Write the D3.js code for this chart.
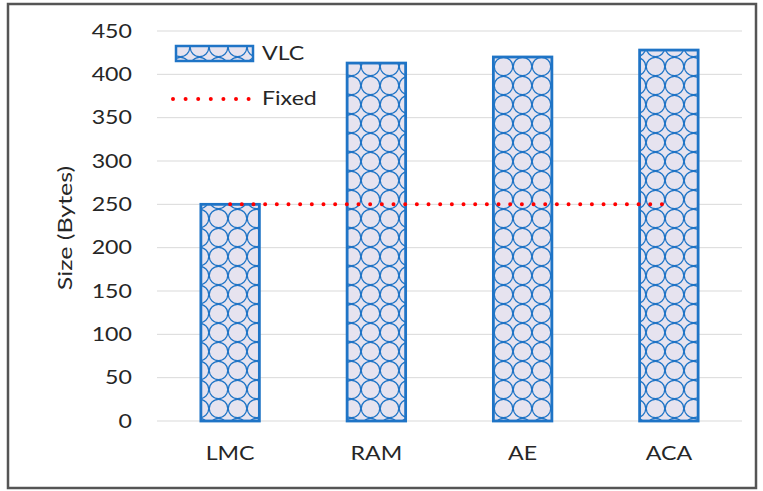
<!DOCTYPE html>
<html>
<head>
<meta charset="utf-8">
<script src="https://cdn.jsdelivr.net/npm/d3@7"></script>
<style>
  html, body { margin: 0; padding: 0; background: #fff; }
  svg { display: block; }
  text { font-family: "Lato", "Noto Sans", sans-serif; fill: #262626; }
</style>
</head>
<body>
<svg id="chart" width="763" height="491"></svg>
<script>
// Data
const categories = ["LMC", "RAM", "AE", "ACA"];
const vlcValues = [250, 413, 420, 428];
const fixedValues = [250, 250, 250, 250];
const yTicks = [0, 50, 100, 150, 200, 250, 300, 350, 400, 450];
const seriesNames = ["VLC", "Fixed"];

const svg = d3.select("#chart");
const W = 763, H = 491;
const margin = { left: 157, right: 21, top: 31, bottom: 70 };

const barBlue = "#1f74c6";
const barFill = "#e6e3ef";
const dotRed = "#ff0000";
const fontSize = 19;
const stretch = "scale(1.22,1)";

// Outer frame
svg.append("rect")
  .attr("x", 8).attr("y", 4)
  .attr("width", 748).attr("height", 484)
  .attr("fill", "#fff")
  .attr("stroke", "#555").attr("stroke-width", 2.5);

// Lattice pattern for VLC bars: touching circles on a square grid
const defs = svg.append("defs");
const ps = 19;
const pat = defs.append("pattern")
  .attr("id", "lattice")
  .attr("patternUnits", "userSpaceOnUse")
  .attr("width", ps).attr("height", ps);
pat.append("rect").attr("width", ps).attr("height", ps).attr("fill", barFill);
pat.append("circle")
  .attr("cx", ps / 2).attr("cy", ps / 2).attr("r", ps / 2 - 0.3)
  .attr("fill", "none").attr("stroke", barBlue).attr("stroke-width", 1.2);

const x = d3.scaleBand()
  .domain(categories)
  .range([margin.left, W - margin.right])
  .paddingInner(0.6).paddingOuter(0.3);

const y = d3.scaleLinear()
  .domain([0, 450])
  .range([H - margin.bottom, margin.top]);

// Gridlines
svg.append("g")
  .selectAll("line")
  .data(yTicks)
  .join("line")
  .attr("x1", margin.left).attr("x2", W - margin.right)
  .attr("y1", d => y(d)).attr("y2", d => y(d))
  .attr("stroke", "#d9d9d9").attr("stroke-width", 1);

// Y axis labels
const yAxis = d3.axisLeft(y).tickValues(yTicks).tickSize(0).tickPadding(0);
const gy = svg.append("g")
  .attr("transform", `translate(${132},0)`)
  .call(yAxis);
gy.select(".domain").remove();
gy.selectAll("text")
  .attr("font-size", fontSize)
  .attr("font-family", "Lato, 'Noto Sans', sans-serif")
  .attr("fill", "#262626")
  .attr("transform", stretch);

// X axis labels
const xAxis = d3.axisBottom(x).tickSize(0).tickPadding(0);
const gx = svg.append("g")
  .attr("transform", `translate(0,${H - margin.bottom + 25})`)
  .call(xAxis);
gx.select(".domain").remove();
gx.selectAll("text")
  .attr("font-size", fontSize)
  .attr("font-family", "Lato, 'Noto Sans', sans-serif")
  .attr("fill", "#262626")
  .attr("transform", stretch);

// Axis title
svg.append("text")
  .attr("transform", `translate(72,${(y(0) + y(450)) / 2 + 2}) rotate(-90) scale(1.25,1)`)
  .attr("text-anchor", "middle")
  .attr("font-size", 20)
  .text("Size (Bytes)");

// VLC bars
svg.append("g")
  .selectAll("rect")
  .data(categories.map((c, i) => ({ c, v: vlcValues[i] })))
  .join("rect")
  .attr("x", d => x(d.c))
  .attr("y", d => y(d.v))
  .attr("width", x.bandwidth())
  .attr("height", d => y(0) - y(d.v))
  .attr("fill", "url(#lattice)")
  .attr("stroke", barBlue).attr("stroke-width", 2.8);

// Fixed series: red dotted line through category centres
const line = d3.line()
  .x((d, i) => x(categories[i]) + x.bandwidth() / 2)
  .y(d => y(d));
svg.append("path")
  .datum(fixedValues)
  .attr("d", line)
  .attr("fill", "none")
  .attr("stroke", dotRed).attr("stroke-width", 4)
  .attr("stroke-linecap", "round")
  .attr("stroke-dasharray", "0 11.67");

// Legend
const lg = svg.append("g");
lg.append("rect")
  .attr("x", 176).attr("y", 46)
  .attr("width", 77).attr("height", 15)
  .attr("fill", "url(#lattice)")
  .attr("stroke", barBlue).attr("stroke-width", 2.5);
lg.append("text")
  .attr("transform", `translate(262,53) ${stretch}`)
  .attr("dy", "0.35em")
  .attr("font-size", fontSize)
  .text(seriesNames[0]);
lg.append("line")
  .attr("x1", 173).attr("x2", 249)
  .attr("y1", 99).attr("y2", 99)
  .attr("stroke", dotRed).attr("stroke-width", 4)
  .attr("stroke-linecap", "round")
  .attr("stroke-dasharray", "0 12.6");
lg.append("text")
  .attr("transform", `translate(262,98) ${stretch}`)
  .attr("dy", "0.35em")
  .attr("font-size", fontSize)
  .text(seriesNames[1]);
</script>
</body>
</html>
